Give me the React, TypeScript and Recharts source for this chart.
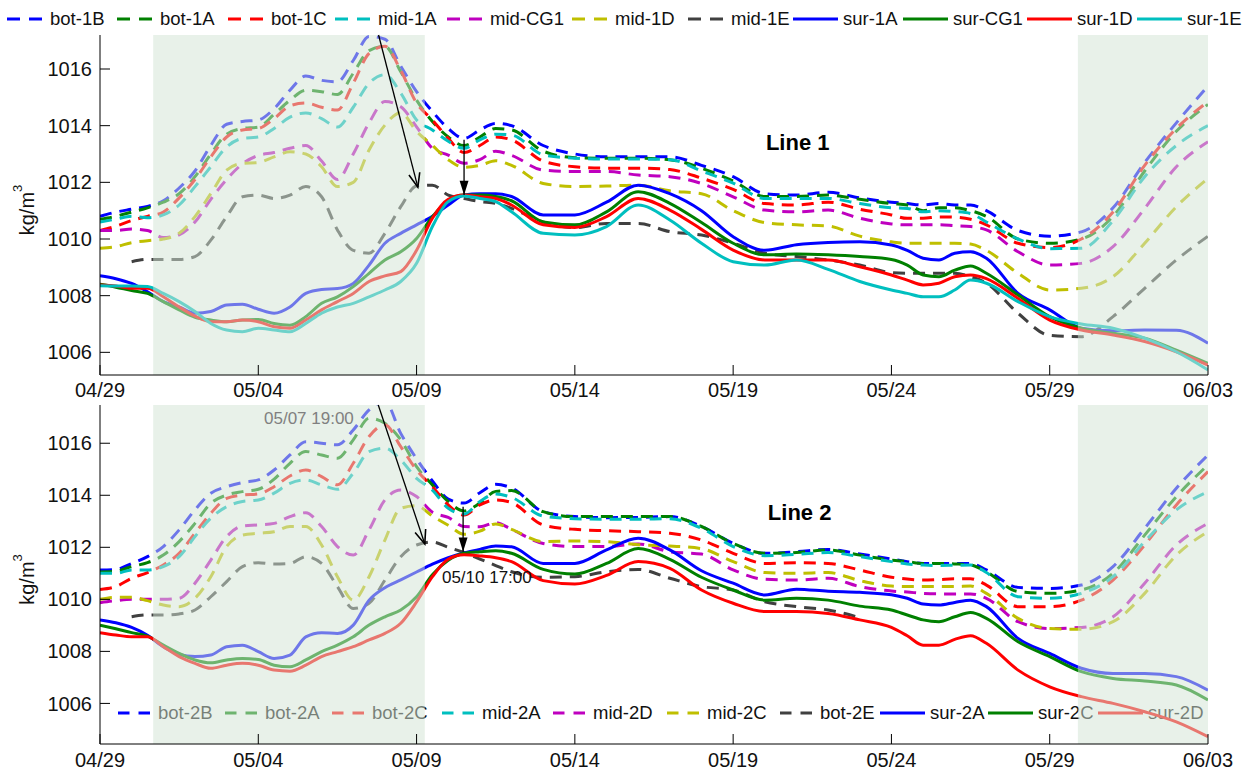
import React from 'react';
import { LineChart, Line, XAxis, YAxis, ReferenceArea, ReferenceLine, ReferenceDot } from 'recharts';

// days after 04/29 00:00
const days = [
  0, 0.5, 1, 1.5, 2, 2.5, 3, 3.5, 4, 4.5, 5, 5.5, 6, 6.5,
  7, 7.5, 8, 8.5, 9, 9.5, 10, 10.5, 11, 11.5, 12, 12.5, 13,
  14, 15, 16, 17, 18, 19, 20, 21, 22, 23, 24,
  25, 25.5, 26, 26.5, 27, 27.5, 28,
  29, 30, 31, 32, 33, 34, 35,
];
const dateTicks = [0, 5, 10, 15, 20, 25, 30, 35];
const dateLabels = ['04/29', '05/04', '05/09', '05/14', '05/19', '05/24', '05/29', '06/03'];
const densityTicks = [1006, 1008, 1010, 1012, 1014, 1016];
const shadeSpans = [[1.68, 10.26], [30.89, 35]];

// ---- Line 1 ----
const bot1B = [
  1010.8, 1010.95, 1011.05, 1011.15, 1011.35, 1011.8, 1012.4, 1013.3, 1014.05, 1014.15, 1014.2, 1014.6, 1015.25, 1015.75,
  1015.6, 1015.55, 1016.3, 1017.15, 1017.05, 1016.1, 1015.2, 1014.5, 1013.9, 1013.55, 1013.85, 1014.08, 1014.0,
  1013.3, 1013.0, 1012.9, 1012.9, 1012.9, 1012.6, 1012.2, 1011.6, 1011.55, 1011.65, 1011.45,
  1011.3, 1011.25, 1011.2, 1011.25, 1011.2, 1011.2, 1011.0,
  1010.3, 1010.1, 1010.25, 1011.1, 1012.7, 1014.1, 1015.4,
];
const bot1A = [
  1010.7, 1010.8, 1010.95, 1011.1, 1011.3, 1011.6, 1012.2, 1013.0, 1013.7, 1013.9, 1013.95, 1014.4, 1014.9, 1015.25,
  1015.2, 1015.1, 1015.85, 1016.65, 1016.8, 1015.9, 1014.9, 1014.15, 1013.6, 1013.3, 1013.6, 1013.9, 1013.85,
  1013.1, 1012.87, 1012.85, 1012.85, 1012.8, 1012.5, 1012.05, 1011.5, 1011.5, 1011.55, 1011.4,
  1011.25, 1011.2, 1011.0, 1011.1, 1011.1, 1011.0, 1010.8,
  1010.0, 1009.85, 1010.0, 1010.8, 1012.4, 1013.8, 1014.75,
];
const bot1C = [
  1010.3, 1010.45, 1010.65, 1010.8, 1010.95, 1011.45, 1012.1, 1012.9, 1013.6, 1013.85, 1013.9, 1014.25, 1014.7, 1014.8,
  1014.65, 1014.55, 1015.5, 1016.55, 1016.8, 1015.95, 1014.8, 1014.2, 1013.55, 1013.05, 1013.3, 1013.6, 1013.5,
  1012.75, 1012.55, 1012.5, 1012.5, 1012.45, 1012.15, 1011.75, 1011.25, 1011.2, 1011.3, 1011.05,
  1010.85, 1010.73, 1010.73, 1010.78, 1010.77, 1010.7, 1010.5,
  1009.85, 1009.7, 1010.0, 1010.95, 1012.6, 1013.9, 1014.85,
];
const mid1A = [
  1010.6, 1010.7, 1010.8, 1010.75, 1010.85, 1011.2, 1011.85, 1012.55, 1013.25, 1013.55, 1013.6, 1013.9, 1014.3, 1014.45,
  1014.25, 1013.95, 1014.65, 1015.5, 1015.8, 1015.15, 1014.2, 1013.85, 1013.45, 1013.2, 1013.5, 1013.7, 1013.67,
  1012.97, 1012.85, 1012.82, 1012.82, 1012.8, 1012.4, 1011.97, 1011.43, 1011.43, 1011.43, 1011.25,
  1011.1, 1011.08, 1010.96, 1011.0, 1010.97, 1010.9, 1010.6,
  1010.0, 1009.66, 1009.67, 1010.65, 1012.2, 1013.3, 1014.0,
];
const midCG1 = [
  1010.3, 1010.3, 1010.35, 1010.3, 1010.05, 1010.15, 1010.6, 1011.4, 1012.1, 1012.65, 1012.95, 1013.05, 1013.2, 1013.3,
  1012.75, 1012.1, 1013.0, 1014.1, 1014.85, 1014.67, 1013.96, 1013.2, 1012.96, 1012.67, 1012.8, 1013.1, 1012.95,
  1012.43, 1012.38, 1012.38, 1012.26, 1012.2, 1011.96, 1011.49, 1011.02, 1010.96, 1011.02, 1010.73,
  1010.53, 1010.5, 1010.5, 1010.5, 1010.47, 1010.44, 1010.32,
  1009.55, 1009.08, 1009.14, 1009.73, 1011.08, 1012.55, 1013.43,
];
const mid1D = [
  1009.67, 1009.73, 1009.87, 1009.94, 1010.0, 1010.2, 1010.79, 1011.6, 1012.43, 1012.67, 1012.7, 1012.9, 1013.08, 1013.0,
  1012.55, 1011.85, 1012.0, 1013.14, 1014.02, 1014.46, 1013.8, 1013.3, 1012.8, 1012.53, 1012.6, 1012.76, 1012.6,
  1011.96, 1011.85, 1011.87, 1011.9, 1011.7, 1011.6, 1011.0, 1010.58, 1010.5, 1010.46, 1010.1,
  1009.9, 1009.85, 1009.85, 1009.85, 1009.85, 1009.82, 1009.6,
  1008.79, 1008.2, 1008.26, 1008.67, 1009.85, 1011.14, 1012.14,
];
const mid1E = [
  null, null, 1009.2, 1009.28, 1009.28, 1009.28, 1009.38, 1009.96, 1010.79, 1011.49, 1011.55, 1011.43, 1011.55, 1011.85,
  1011.49, 1010.32, 1009.6, 1009.5, 1010.2, 1011.14, 1011.87, 1011.9, 1011.55, 1011.43, 1011.32, 1011.26, 1011.08,
  1010.6, 1010.4, 1010.55, 1010.55, 1010.26, 1010.14, 1009.85, 1009.5, 1009.38, 1009.26, 1009.08,
  1008.81, 1008.79, 1008.79, 1008.79, 1008.79, 1008.67, 1008.44,
  1007.38, 1006.6, 1006.55, 1007.26, 1008.26, 1009.26, 1010.1,
];
const sur1A = [
  1008.7, 1008.6, 1008.43, 1008.14, 1007.79, 1007.6, 1007.38, 1007.44, 1007.67, 1007.7, 1007.52, 1007.38, 1007.6, 1008.08,
  1008.22, 1008.25, 1008.43, 1009.08, 1009.85, 1010.2, 1010.5, 1010.8, 1011.2, 1011.55, 1011.6, 1011.6, 1011.5,
  1010.85, 1010.85, 1011.3, 1011.9, 1011.6, 1011.0, 1010.08, 1009.6, 1009.8, 1009.88, 1009.9,
  1009.79, 1009.6, 1009.32, 1009.26, 1009.5, 1009.55, 1009.32,
  1008.08, 1007.5, 1006.85, 1006.76, 1006.79, 1006.78, 1006.32,
];
const surCG1 = [
  1008.4, 1008.3, 1008.18, 1008.08, 1007.79, 1007.5, 1007.24, 1007.14, 1007.08, 1007.14, 1007.16, 1007.02, 1006.96, 1007.26,
  1007.73, 1007.96, 1008.32, 1008.79, 1009.26, 1009.55, 1010.02, 1010.79, 1011.35, 1011.55, 1011.55, 1011.5, 1011.35,
  1010.6, 1010.5, 1010.96, 1011.67, 1011.26, 1010.58, 1009.85, 1009.44, 1009.47, 1009.44, 1009.38,
  1009.28, 1009.08, 1008.73, 1008.67, 1008.9, 1009.05, 1008.79,
  1008.02, 1007.26, 1006.85, 1006.67, 1006.5, 1006.08, 1005.61,
];
const sur1D = [
  1008.38, 1008.34, 1008.26, 1008.26, 1007.96, 1007.6, 1007.28, 1007.08, 1007.08, 1007.14, 1007.08, 1006.9, 1006.85, 1007.14,
  1007.5, 1007.79, 1008.08, 1008.5, 1008.7, 1008.85, 1009.6, 1010.73, 1011.4, 1011.55, 1011.49, 1011.43, 1011.2,
  1010.5, 1010.41, 1010.79, 1011.43, 1011.02, 1010.34, 1009.61, 1009.26, 1009.26, 1009.26, 1009.02,
  1008.73, 1008.55, 1008.38, 1008.44, 1008.67, 1008.73, 1008.6,
  1007.9, 1007.14, 1006.79, 1006.61, 1006.38, 1006.02, 1005.55,
];
const sur1E = [
  1008.35, 1008.34, 1008.34, 1008.32, 1008.08, 1007.79, 1007.44, 1007.02, 1006.79, 1006.73, 1006.85, 1006.79, 1006.73, 1007.02,
  1007.38, 1007.6, 1007.73, 1007.96, 1008.2, 1008.5, 1009.14, 1010.44, 1011.32, 1011.52, 1011.43, 1011.32, 1010.96,
  1010.2, 1010.14, 1010.44, 1011.2, 1010.67, 1009.85, 1009.2, 1009.08, 1009.26, 1008.93, 1008.5,
  1008.2, 1008.08, 1007.96, 1007.96, 1008.2, 1008.55, 1008.44,
  1007.79, 1007.26, 1007.0, 1006.85, 1006.5, 1006.02, 1005.38,
];

// ---- Line 2 ----
const bot2B = [
  1011.13, 1011.15, 1011.38, 1011.64, 1012.03, 1012.67, 1013.44, 1014.08, 1014.33, 1014.49, 1014.59, 1014.97, 1015.55, 1016.06,
  1016.0, 1015.94, 1016.51, 1017.28, 1017.6, 1016.38, 1015.4, 1014.55, 1013.85, 1013.7, 1014.1, 1014.42, 1014.28,
  1013.37, 1013.18, 1013.14, 1013.15, 1013.18, 1012.8, 1012.15, 1011.77, 1011.83, 1011.92, 1011.74,
  1011.55, 1011.45, 1011.38, 1011.38, 1011.38, 1011.38, 1011.13,
  1010.46, 1010.42, 1010.55, 1011.26, 1012.73, 1014.27, 1015.55,
];
const bot2A = [
  1011.05, 1011.08, 1011.26, 1011.41, 1011.7, 1012.22, 1012.92, 1013.69, 1014.01, 1014.14, 1014.23, 1014.62, 1015.23, 1015.68,
  1015.55, 1015.42, 1016.13, 1016.96, 1016.77, 1016.13, 1015.1, 1014.4, 1013.76, 1013.4, 1013.7, 1014.15, 1014.18,
  1013.37, 1013.18, 1013.18, 1013.18, 1013.18, 1012.8, 1012.15, 1011.77, 1011.8, 1011.9, 1011.7,
  1011.51, 1011.45, 1011.38, 1011.38, 1011.36, 1011.32, 1011.06,
  1010.3, 1010.23, 1010.36, 1011.0, 1012.47, 1013.95, 1015.17,
];
const bot2C = [
  1010.38, 1010.49, 1010.81, 1011.03, 1011.32, 1011.77, 1012.54, 1013.31, 1013.88, 1014.01, 1014.05, 1014.33, 1014.74, 1014.97,
  1014.72, 1014.4, 1015.23, 1016.26, 1016.71, 1015.87, 1014.97, 1014.33, 1013.63, 1013.24, 1013.63, 1013.82, 1013.72,
  1012.86, 1012.69, 1012.64, 1012.6, 1012.54, 1012.28, 1011.77, 1011.38, 1011.41, 1011.38, 1011.13,
  1010.85, 1010.78, 1010.74, 1010.76, 1010.79, 1010.79, 1010.55,
  1009.72, 1009.72, 1009.97, 1010.74, 1012.09, 1013.63, 1014.91,
];
const mid2A = [
  1011.0, 1011.0, 1011.13, 1011.13, 1011.26, 1011.64, 1012.41, 1013.12, 1013.56, 1013.76, 1013.82, 1014.08, 1014.46, 1014.59,
  1014.4, 1014.23, 1014.85, 1015.68, 1015.81, 1015.36, 1014.65, 1014.2, 1013.5, 1013.28, 1013.76, 1014.05, 1013.92,
  1013.2, 1013.1, 1013.08, 1013.08, 1013.1, 1012.73, 1012.03, 1011.68, 1011.73, 1011.8, 1011.64,
  1011.45, 1011.36, 1011.32, 1011.3, 1011.31, 1011.32, 1011.03,
  1010.1, 1010.04, 1010.23, 1010.87, 1012.22, 1013.44, 1014.14,
];
const mid2D = [
  1009.87, 1009.95, 1010.0, 1010.0, 1010.0, 1010.04, 1010.62, 1011.51, 1012.41, 1012.82, 1012.86, 1012.92, 1013.18, 1013.33,
  1012.8, 1012.03, 1011.7, 1012.67, 1013.82, 1014.2, 1013.95, 1013.35, 1013.15, 1012.8, 1012.79, 1012.95, 1012.69,
  1012.15, 1012.03, 1012.03, 1012.13, 1011.83, 1011.74, 1011.13, 1010.77, 1010.74, 1010.81, 1010.49,
  1010.32, 1010.28, 1010.23, 1010.21, 1010.21, 1010.21, 1010.04,
  1009.14, 1008.88, 1008.92, 1009.33, 1010.62, 1012.09, 1012.92,
];
const mid2C = [
  1010.0, 1010.08, 1010.08, 1009.95, 1009.78, 1009.72, 1010.04, 1010.87, 1012.03, 1012.47, 1012.54, 1012.6, 1012.8, 1012.8,
  1012.09, 1010.87, 1009.97, 1010.87, 1012.28, 1013.5, 1013.6, 1013.2, 1012.85, 1012.5, 1012.62, 1012.9, 1012.69,
  1012.22, 1012.24, 1012.22, 1012.1, 1012.05, 1011.95, 1011.45, 1011.03, 1011.0, 1011.03, 1010.72,
  1010.51, 1010.49, 1010.49, 1010.49, 1010.49, 1010.51, 1010.23,
  1009.27, 1008.88, 1008.85, 1009.14, 1010.23, 1011.7, 1012.6,
];
const bot2E = [
  null, null, 1009.33, 1009.4, 1009.4, 1009.44, 1009.59, 1010.1, 1010.68, 1011.26, 1011.41, 1011.36, 1011.38, 1011.64,
  1011.38, 1010.49, 1009.65, 1009.85, 1010.74, 1011.64, 1012.09, 1012.2, 1012.0, 1011.8, 1011.55, 1011.3, 1011.06,
  1010.85, 1010.87, 1011.06, 1011.15, 1010.81, 1010.49, 1010.36, 1009.91, 1009.72, 1009.59, 1009.3,
  null, null, null, null, null, null, null,
  null, null, null, null, null, null, null,
];
const sur2A = [
  1009.21, 1009.1, 1008.92, 1008.62, 1008.18, 1007.88, 1007.8, 1007.86, 1008.18, 1008.24, 1007.99, 1007.73, 1007.86, 1008.56,
  1008.72, 1008.69, 1009.01, 1009.97, 1010.45, 1010.75, 1011.05, 1011.35, 1011.6, 1011.78, 1011.92, 1012.05, 1012.02,
  1011.38, 1011.38, 1011.9, 1012.35, 1011.9, 1011.1, 1010.62, 1010.17, 1010.39, 1010.31, 1010.27,
  1010.18, 1010.04, 1009.82, 1009.78, 1009.88, 1009.97, 1009.72,
  1008.5, 1007.92, 1007.35, 1007.15, 1007.15, 1007.03, 1006.51,
];
const sur2C = [
  1009.01, 1008.87, 1008.72, 1008.59, 1008.24, 1007.92, 1007.67, 1007.56, 1007.67, 1007.73, 1007.69, 1007.47, 1007.41, 1007.67,
  1007.99, 1008.24, 1008.56, 1009.01, 1009.33, 1009.59, 1010.1, 1010.95, 1011.5, 1011.77, 1011.83, 1011.87, 1011.77,
  1011.15, 1010.97, 1011.38, 1011.95, 1011.54, 1010.85, 1010.36, 1009.97, 1010.04, 1009.97, 1009.74,
  1009.59, 1009.4, 1009.21, 1009.14, 1009.33, 1009.49, 1009.27,
  1008.37, 1007.8, 1007.22, 1006.96, 1006.86, 1006.71, 1006.13,
];
const sur2D = [
  1008.72, 1008.63, 1008.56, 1008.56, 1008.18, 1007.8, 1007.54, 1007.35, 1007.47, 1007.54, 1007.47, 1007.28, 1007.24, 1007.47,
  1007.8, 1007.99, 1008.18, 1008.44, 1008.69, 1009.08, 1009.9, 1010.87, 1011.54, 1011.71, 1011.67, 1011.6, 1011.45,
  1010.72, 1010.59, 1010.92, 1011.45, 1011.19, 1010.36, 1009.85, 1009.53, 1009.53, 1009.46, 1009.21,
  1008.92, 1008.6, 1008.24, 1008.24, 1008.46, 1008.6, 1008.31,
  1007.28, 1006.64, 1006.26, 1006.0, 1005.68, 1005.29, 1004.72,
];

const BLUE = '#0000ff';
const GREEN = '#008000';
const RED = '#ff0000';
const CYAN = '#00bfbf';
const MAGENTA = '#bf00bf';
const YELLOW = '#bfbf00';
const GRAY = '#404040';

type Series = { name: string; values: (number | null)[]; color: string; dashed: boolean };

const line1Series: Series[] = [
  { name: 'bot-1B', values: bot1B, color: BLUE, dashed: true },
  { name: 'bot-1A', values: bot1A, color: GREEN, dashed: true },
  { name: 'bot-1C', values: bot1C, color: RED, dashed: true },
  { name: 'mid-1A', values: mid1A, color: CYAN, dashed: true },
  { name: 'mid-CG1', values: midCG1, color: MAGENTA, dashed: true },
  { name: 'mid-1D', values: mid1D, color: YELLOW, dashed: true },
  { name: 'mid-1E', values: mid1E, color: GRAY, dashed: true },
  { name: 'sur-1A', values: sur1A, color: BLUE, dashed: false },
  { name: 'sur-CG1', values: surCG1, color: GREEN, dashed: false },
  { name: 'sur-1D', values: sur1D, color: RED, dashed: false },
  { name: 'sur-1E', values: sur1E, color: CYAN, dashed: false },
];
const line2Series: Series[] = [
  { name: 'bot-2B', values: bot2B, color: BLUE, dashed: true },
  { name: 'bot-2A', values: bot2A, color: GREEN, dashed: true },
  { name: 'bot-2C', values: bot2C, color: RED, dashed: true },
  { name: 'mid-2A', values: mid2A, color: CYAN, dashed: true },
  { name: 'mid-2D', values: mid2D, color: MAGENTA, dashed: true },
  { name: 'mid-2C', values: mid2C, color: YELLOW, dashed: true },
  { name: 'bot-2E', values: bot2E, color: GRAY, dashed: true },
  { name: 'sur-2A', values: sur2A, color: BLUE, dashed: false },
  { name: 'sur-2C', values: sur2C, color: GREEN, dashed: false },
  { name: 'sur-2D', values: sur2D, color: RED, dashed: false },
];

// legend item left edges (px)
const legend1X = [7, 117, 228, 335, 447, 572, 688, 793, 903, 1027, 1137];
const legend2X = [118, 225, 332, 442, 553, 667, 780, 880, 988, 1098];

const toRows = (series: Series[]) =>
  days.map((d, i) => {
    const row: Record<string, number | null> = { day: d };
    series.forEach((s) => { row[s.name] = s.values[i]; });
    return row;
  });

const rows1 = toRows(line1Series);
const rows2 = toRows(line2Series);

const FONT = "'Liberation Sans', Arial, Helvetica, sans-serif";
const SHADE = 'rgb(211,228,213)';
const dateFmt = (v: number) => dateLabels[dateTicks.indexOf(v)] ?? '';
const blank = () => '';

function DensityLabel({ viewBox }: any) {
  const cy = viewBox.y + viewBox.height / 2 + 5;
  const x = 34;
  return (
    <text x={x} y={cy} transform={`rotate(-90 ${x} ${cy})`} textAnchor="middle" fontSize={20} fill="#111" fontFamily={FONT}>
      kg/m<tspan dy={-12} fontSize={13}>3</tspan>
    </text>
  );
}

function Arrow(props: any) {
  const { x1, y1, x2, y2, filled } = props;
  const a = Math.atan2(y2 - y1, x2 - x1);
  const len = 15;
  const spread = filled ? 0.3 : 0.38;
  const lx = x2 - len * Math.cos(a - spread);
  const ly = y2 - len * Math.sin(a - spread);
  const rx = x2 - len * Math.cos(a + spread);
  const ry = y2 - len * Math.sin(a + spread);
  return (
    <g>
      <line x1={x1} y1={y1} x2={x2} y2={y2} stroke="#000" strokeWidth={1.3} />
      {filled ? (
        <polygon points={`${x2},${y2} ${lx},${ly} ${rx},${ry}`} fill="#000" />
      ) : (
        <polyline points={`${lx},${ly} ${x2},${y2} ${rx},${ry}`} fill="none" stroke="#000" strokeWidth={1.6} />
      )}
    </g>
  );
}

function LegendRow({ series, xs, top, dashW }: { series: Series[]; xs: number[]; top: number; dashW: number }) {
  return (
    <>
      {series.map((s, i) => {
        const w = s.dashed ? dashW : 45;
        const gap = s.dashed ? 8 : 5;
        return (
          <div
            key={s.name}
            style={{ position: 'absolute', left: xs[i], top: top - 12, height: 24, display: 'flex', alignItems: 'center', whiteSpace: 'nowrap' }}
          >
            <svg width={w} height={6} style={{ display: 'block' }}>
              <line
                x1={0}
                y1={3}
                x2={w}
                y2={3}
                stroke={s.color}
                strokeWidth={3}
                strokeDasharray={s.dashed ? `${(w - 9) / 2} 9` : undefined}
              />
            </svg>
            <span style={{ marginLeft: gap, fontSize: 18.5, color: '#111', lineHeight: '24px' }}>{s.name}</span>
          </div>
        );
      })}
    </>
  );
}

function Panel({
  rows, series, domain, height, margin, xAxisHeight, tickMargin, title, arrows, notes,
}: {
  rows: Record<string, number | null>[];
  series: Series[];
  domain: [number, number];
  height: number;
  margin: { top: number; right: number; bottom: number; left: number };
  xAxisHeight: number;
  tickMargin: number;
  title: { x: number; y: number; text: string };
  arrows: { from: [number, number]; to: [number, number]; filled: boolean }[];
  notes: { x: number; y: number; text: string; color: string }[];
}) {
  const axisStroke = '#000';
  return (
    <LineChart width={1246} height={height} data={rows} margin={margin}>
      <XAxis
        dataKey="day"
        type="number"
        domain={[0, 35]}
        ticks={dateTicks}
        interval={0}
        allowDataOverflow
        tickFormatter={dateFmt}
        height={xAxisHeight}
        tickSize={-10}
        tickMargin={tickMargin}
        stroke={axisStroke}
        tick={{ fontSize: 20, fill: '#111' }}
      />
      <XAxis
        xAxisId="t"
        orientation="top"
        dataKey="day"
        type="number"
        domain={[0, 35]}
        ticks={dateTicks}
        interval={0}
        allowDataOverflow
        tickFormatter={blank}
        height={0}
        tickSize={-10}
        stroke={axisStroke}
      />
      <YAxis
        type="number"
        domain={domain}
        ticks={densityTicks}
        interval={0}
        allowDataOverflow
        width={100}
        tickSize={-10}
        tickMargin={18}
        stroke={axisStroke}
        tick={{ fontSize: 20, fill: '#111' }}
        label={<DensityLabel />}
      />
      <YAxis
        yAxisId="r"
        orientation="right"
        type="number"
        domain={domain}
        ticks={densityTicks}
        interval={0}
        allowDataOverflow
        width={0}
        tickSize={-10}
        tickFormatter={blank}
        stroke={axisStroke}
      />
      {series.map((s) => (
        <Line
          key={s.name}
          dataKey={s.name}
          type="monotone"
          stroke={s.color}
          strokeWidth={3}
          strokeDasharray={s.dashed ? '12 8' : undefined}
          dot={false}
          activeDot={false}
          isAnimationActive={false}
        />
      ))}
      {shadeSpans.map(([a, b]) => (
        <ReferenceArea
          key={a}
          x1={a}
          x2={b}
          fill={SHADE}
          fillOpacity={0.52}
          stroke="none"
          ifOverflow="visible"
          zIndex={450}
        />
      ))}
      {arrows.map((ar, i) => (
        <ReferenceLine
          key={i}
          segment={[{ x: ar.from[0], y: ar.from[1] }, { x: ar.to[0], y: ar.to[1] }]}
          ifOverflow="visible"
          zIndex={1100}
          shape={(p: any) => <Arrow {...p} filled={ar.filled} />}
        />
      ))}
      <ReferenceDot
        x={title.x}
        y={title.y}
        r={0}
        fill="none"
        stroke="none"
        ifOverflow="visible"
        zIndex={1100}
        label={{ value: title.text, position: 'center', fontSize: 22, fontWeight: 'bold', fill: '#000' }}
      />
      {notes.map((n) => (
        <ReferenceDot
          key={n.text}
          x={n.x}
          y={n.y}
          r={0}
          fill="none"
          stroke="none"
          ifOverflow="visible"
          zIndex={1100}
          label={{ value: n.text, position: 'center', fontSize: 17, fill: n.color }}
        />
      ))}
    </LineChart>
  );
}

export default function App() {
  return (
    <div style={{ position: 'absolute', left: 0, top: 0, width: 1246, height: 771, background: '#fff', fontFamily: FONT, overflow: 'hidden' }}>
      <LegendRow series={line1Series} xs={legend1X} top={19} dashW={35} />
      <div style={{ position: 'absolute', left: 0, top: 395, zIndex: 0 }}>
        <div style={{ position: 'relative', width: 1246, height: 376 }}>
          <LegendRow series={line2Series} xs={legend2X} top={318} dashW={32} />
        </div>
      </div>
      <div style={{ position: 'absolute', left: 0, top: 0, zIndex: 1 }}>
        <Panel
          rows={rows1}
          series={line1Series}
          domain={[1005.2, 1017.2]}
          height={400}
          margin={{ top: 35, right: 38, bottom: 0, left: 0 }}
          xAxisHeight={25}
          tickMargin={18}
          title={{ x: 22.04, y: 1013.42, text: 'Line 1' }}
          arrows={[
            { from: [8.8, 1017.2], to: [10.04, 1011.83], filled: false },
            { from: [11.5, 1013.5], to: [11.5, 1011.55], filled: true },
          ]}
          notes={[]}
        />
      </div>
      <div style={{ position: 'absolute', left: 0, top: 395, zIndex: 1 }}>
        <Panel
          rows={rows2}
          series={line2Series}
          domain={[1004.44, 1017.47]}
          height={376}
          margin={{ top: 10, right: 38, bottom: 0, left: 0 }}
          xAxisHeight={27}
          tickMargin={19}
          title={{ x: 22.1, y: 1013.36, text: 'Line 2' }}
          arrows={[
            { from: [8.79, 1017.47], to: [10.26, 1012.13], filled: false },
            { from: [11.47, 1013.56], to: [11.47, 1011.83], filled: true },
          ]}
          notes={[
            { x: 6.6, y: 1016.97, text: '05/07 19:00', color: '#808080' },
            { x: 12.22, y: 1010.86, text: '05/10 17:00', color: '#111' },
          ]}
        />
      </div>
    </div>
  );
}
